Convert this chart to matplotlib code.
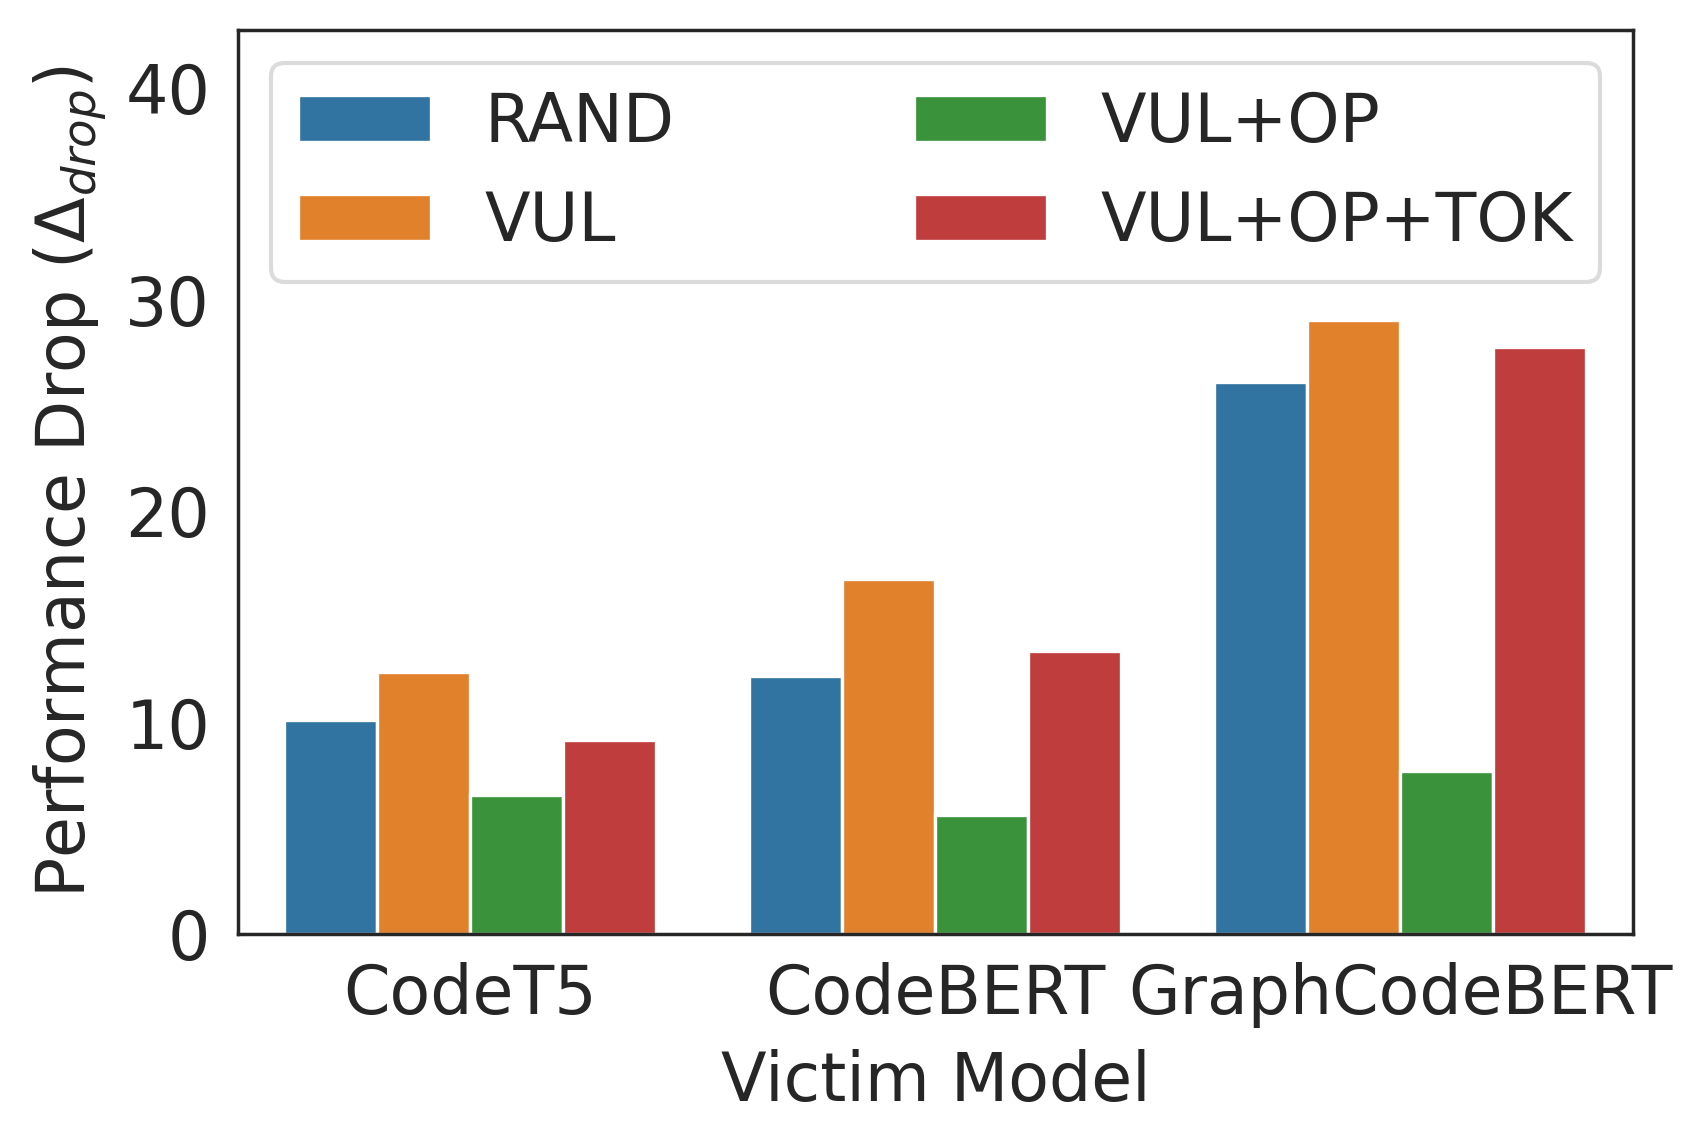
import numpy as np
import matplotlib
matplotlib.use('Agg')
import matplotlib.pyplot as plt
import seaborn as sns

models = ['CodeT5', 'CodeBERT', 'GraphCodeBERT']
methods = ['RAND', 'VUL', 'VUL+OP', 'VUL+OP+TOK']
rand_drop = [10.11, 12.19, 26.11]
vul_drop = [12.38, 16.78, 29.04]
vul_op_drop = [6.56, 5.61, 7.70]
vul_op_tok_drop = [9.16, 13.37, 27.76]

colors = ['#3274a1', '#e1812c', '#3a923a', '#c03d3e']

sns.set_style('white')
plt.rcParams['font.family'] = ['DejaVu Sans']

fig = plt.figure(figsize=(8.51, 5.715), dpi=200)
ax = fig.add_axes([0.1398, 0.1829, 0.8196, 0.791])

x = np.arange(len(models))
w = 0.2
series = [rand_drop, vul_drop, vul_op_drop, vul_op_tok_drop]
for i, (name, vals) in enumerate(zip(methods, series)):
    ax.bar(x + (i - 1.5) * w, vals, w, color=colors[i], edgecolor='white',
           linewidth=1.2, label=name)

ax.set_xlim(-0.5, 2.5)
ax.set_ylim(0, 42.77)
ax.set_yticks([0, 10, 20, 30, 40])
ax.set_xticks(x)
ax.set_xticklabels(models)
ax.tick_params(axis='x', labelsize=24, colors='#262626', length=0, pad=10)
ax.tick_params(axis='y', labelsize=24, colors='#262626', length=0, pad=10)
ax.set_xlabel('Victim Model', fontsize=24, color='#262626', labelpad=7.5)
ax.set_ylabel('Performance Drop ($\\Delta_{drop}$)', fontsize=24,
              color='#262626', labelpad=6)
for s in ax.spines.values():
    s.set_color('#262626')
    s.set_linewidth(1.25)

leg = ax.legend(loc='upper left', ncol=2, fontsize=24, columnspacing=3.59,
                frameon=True, edgecolor='#d3d3d3', fancybox=True)
leg.get_frame().set_linewidth(1.5)

fig.savefig('out.png', dpi=200)
